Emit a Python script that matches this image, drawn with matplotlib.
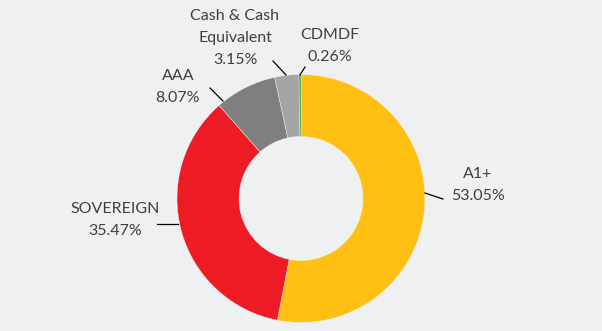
import matplotlib
matplotlib.use("Agg")
import matplotlib.pyplot as plt

categories = ["A1+", "SOVEREIGN", "AAA", "Cash & Cash\nEquivalent", "CDMDF"]
values = [53.05, 35.47, 8.07, 3.15, 0.26]
colors = ["#FFC013", "#ED1C24", "#7F7F7F", "#A5A5A5", "#2FA52F"]

W, H = 602, 331
bg = "#EFF0F2"
txt = "#404040"

fig = plt.figure(figsize=(W / 100, H / 100), dpi=100, facecolor=bg)
ax = fig.add_axes([0, 0, 1, 1], facecolor=bg)

cx, cy, R = 301, H - 198.5, 124
ax.pie(values, colors=colors, startangle=90, counterclock=False,
       center=(cx, cy), radius=R, frame=True,
       wedgeprops=dict(width=R * 0.5, edgecolor=bg, linewidth=0.3))
ax.set_xlim(0, W)
ax.set_ylim(0, H)
ax.set_aspect("equal")
ax.axis("off")

# label layout: (text centre x, text centre y, leader start, leader end) in pixels
layout = [
    ((478, 185), (443, 199), (425, 193)),
    ((115, 220), (157, 224), (178, 224)),
    ((178, 87), (210, 88), (223, 101)),
    ((235, 38), (273, 61), (286, 75)),
    ((330, 46), (305, 67), (300, 75)),
]
for cat, val, ((tx, ty), p0, p1) in zip(categories, values, layout):
    ax.text(tx, H - ty, f"{cat}\n{val:.2f}%", ha="center", va="center",
            fontsize=11.5, color=txt, family=["Lato", "DejaVu Sans"],
            linespacing=1.75)
    ax.plot([p0[0], p1[0]], [H - p0[1], H - p1[1]], color="black", lw=0.9)

fig.savefig("out.png", dpi=100, facecolor=bg)
